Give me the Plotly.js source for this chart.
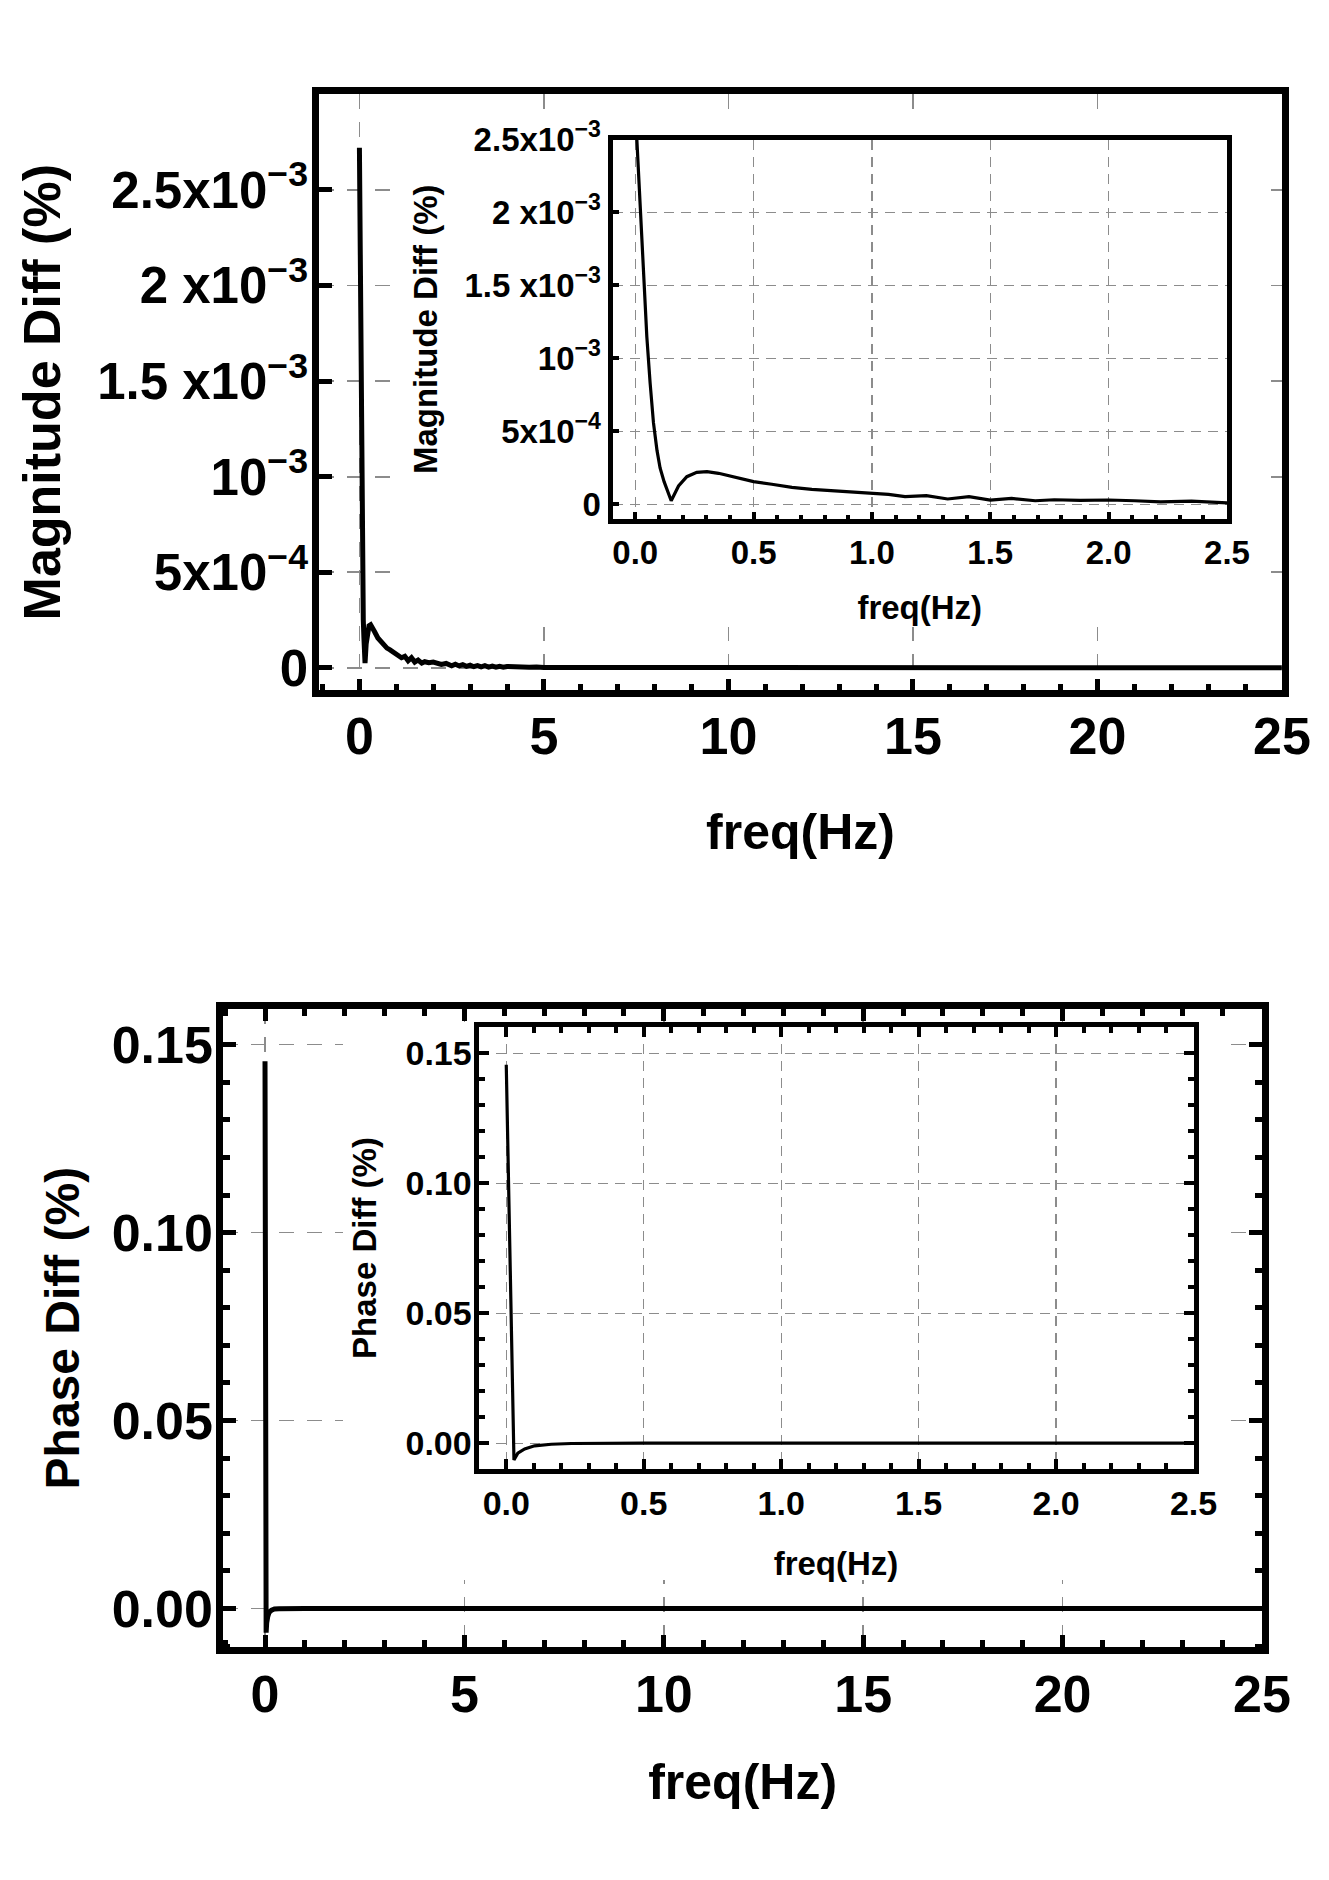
<!DOCTYPE html>
<html>
<head>
<meta charset="utf-8">
<script src="https://cdn.plot.ly/plotly-3.0.1.min.js"></script>
<style>html,body{margin:0;padding:0;background:#fff;}#chart{width:1329px;height:1880px;}</style>
</head>
<body>
<div id="chart"></div>
<script>
// ---- data ----
const magFreq = [0, 0.007, 0.021, 0.035, 0.049, 0.063, 0.077, 0.092, 0.105, 0.122, 0.152, 0.183, 0.218, 0.26, 0.303, 0.352, 0.408, 0.5, 0.577, 0.662, 0.746, 0.82, 0.9, 1.0, 1.07, 1.14, 1.23, 1.32, 1.41, 1.5, 1.59, 1.69, 1.77, 1.88, 2.0, 2.11, 2.22, 2.35, 2.5, 2.6, 2.7, 2.8, 2.9, 3.0, 3.1, 3.2, 3.3, 3.4, 3.5, 3.6, 3.7, 3.8, 3.9, 4.0, 4.2, 4.4, 4.6, 4.8, 5.0, 6, 7, 8, 9, 10, 12, 14, 16, 18, 20, 22, 25];
const magDiff = [2.72e-3, 2.50e-3, 2.02e-3, 1.57e-3, 1.15e-3, 0.83e-3, 0.56e-3, 0.37e-3, 0.25e-3, 0.156e-3, 0.025e-3, 0.126e-3, 0.19e-3, 0.22e-3, 0.225e-3, 0.213e-3, 0.19e-3, 0.156e-3, 0.138e-3, 0.117e-3, 0.103e-3, 0.095e-3, 0.085e-3, 0.076e-3, 0.069e-3, 0.053e-3, 0.060e-3, 0.037e-3, 0.053e-3, 0.030e-3, 0.041e-3, 0.025e-3, 0.032e-3, 0.027e-3, 0.030e-3, 0.025e-3, 0.018e-3, 0.023e-3, 0.011e-3, 0.019e-3, 0.010e-3, 0.017e-3, 0.008e-3, 0.014e-3, 0.006e-3, 0.012e-3, 0.005e-3, 0.011e-3, 0.004e-3, 0.009e-3, 0.003e-3, 0.008e-3, 0.003e-3, 0.007e-3, 0.004e-3, 0.006e-3, 0.003e-3, 0.004e-3, 0.002e-3, 0.002e-3, 0.0015e-3, 0.0015e-3, 0.001e-3, 0.001e-3, 0.001e-3, 0.0008e-3, 0.0008e-3, 0.0006e-3, 0.0006e-3, 0.0005e-3, 0.0005e-3];

const phaseFreq = [0, 0.028, 0.042, 0.067, 0.103, 0.164, 0.237, 0.35, 0.5, 1.0, 2.5, 5, 10, 15, 20, 25];
const phaseDiff = [0.1456, -0.0064, -0.0038, -0.0022, -0.0010, -0.0004, -0.0001, -0.00003, 0, 0, 0, 0, 0, 0, 0, 0];

const mainFreqTicks = [0, 5, 10, 15, 20, 25];
const mainFreqText = ['0', '5', '10', '15', '20', '25'];
const insetFreqTicks = [0, 0.5, 1.0, 1.5, 2.0, 2.5];
const insetFreqText = ['0.0', '0.5', '1.0', '1.5', '2.0', '2.5'];
const magTicks = [0, 5e-4, 1e-3, 1.5e-3, 2e-3, 2.5e-3];
const magTickText = ['0', '5x10<sup>\u22124</sup>', '10<sup>\u22123</sup>', '1.5 x10<sup>\u22123</sup>', '2 x10<sup>\u22123</sup>', '2.5x10<sup>\u22123</sup>'];
const phaseTicks = [0, 0.05, 0.10, 0.15];
const phaseTickText = ['0.00', '0.05', '0.10', '0.15'];

const xTitle = 'freq(Hz)';
const magTitle = 'Magnitude Diff (%)';
const phaseTitle = 'Phase Diff (%)';

// ---- styling ----
const FAM = 'Liberation Sans, Arial, Helvetica, sans-serif';
function f(size) { return {family: FAM, size: size, color: '#000', weight: 'bold'}; }
const W = 1329, H = 1880;
function dx(a, b) { return [a / W, b / W]; }
function dy(top, bottom) { return [1 - bottom / H, 1 - top / H]; }

function axis(o) {
  const big = o.big;
  const a = {
    domain: o.domain, anchor: o.anchor, range: o.range,
    tickmode: 'array', tickvals: o.tickvals, ticktext: o.ticktext,
    ticks: 'inside', ticklen: o.ticklen, tickwidth: o.tickwidth, tickcolor: '#000',
    showline: true, linewidth: big ? 7 : 5, linecolor: '#000', mirror: o.mirror,
    showgrid: true, gridcolor: '#8c8c8c', gridwidth: big ? 1.7 : 1.3,
    griddash: big ? '15px,13px' : '10px,7px',
    zeroline: false, fixedrange: true,
    tickfont: f(o.tickSize),
    title: {text: o.title, font: f(o.titleSize), standoff: o.standoff}
  };
  if (o.tls !== undefined) a.ticklabelstandoff = o.tls;
  if (o.minor) a.minor = {dtick: o.minor, tick0: 0, ticks: 'inside', ticklen: o.minorlen, tickwidth: o.tickwidth, tickcolor: '#000', showgrid: false};
  return a;
}
function hidden(domain, anchor) {
  return {domain: domain, anchor: anchor, visible: false, showgrid: false, zeroline: false, range: [0, 1], fixedrange: true};
}

const traces = [
  {x: magFreq, y: magDiff, xaxis: 'x', yaxis: 'y', mode: 'lines', line: {color: '#000', width: 5}, hoverinfo: 'skip'},
  {x: [], y: [], xaxis: 'x2', yaxis: 'y2', mode: 'lines', hoverinfo: 'skip'},
  {x: magFreq, y: magDiff, xaxis: 'x3', yaxis: 'y3', mode: 'lines', line: {color: '#000', width: 3.2}, hoverinfo: 'skip'},
  {x: phaseFreq, y: phaseDiff, xaxis: 'x4', yaxis: 'y4', mode: 'lines', line: {color: '#000', width: 5}, hoverinfo: 'skip'},
  {x: [], y: [], xaxis: 'x5', yaxis: 'y5', mode: 'lines', hoverinfo: 'skip'},
  {x: phaseFreq, y: phaseDiff, xaxis: 'x6', yaxis: 'y6', mode: 'lines', line: {color: '#000', width: 3.2}, hoverinfo: 'skip'}
];

const layout = {
  width: W, height: H,
  margin: {l: 0, r: 0, t: 0, b: 0, pad: 0},
  paper_bgcolor: '#fff', plot_bgcolor: '#fff',
  showlegend: false,
  // top main
  xaxis: axis({big: true, domain: dx(319.2, 1281.9), anchor: 'y', range: [-1.09, 25], tickvals: mainFreqTicks, ticktext: mainFreqText, ticklen: 11, tickwidth: 5, minor: 1, minorlen: 6, mirror: true, title: xTitle, tickSize: 52, titleSize: 50, standoff: 53, tls: -6}),
  yaxis: axis({big: true, domain: dy(94.3, 690.2), anchor: 'x', range: [-1.17e-4, 3.0e-3], tickvals: magTicks, ticktext: magTickText, ticklen: 13, tickwidth: 5, mirror: true, title: magTitle, tickSize: 51, titleSize: 52, standoff: 22, tls: -6}),
  // top cover
  xaxis2: hidden(dx(400, 1258), 'y2'),
  yaxis2: hidden(dy(113, 627), 'x2'),
  // top inset
  xaxis3: axis({big: false, domain: dx(612.5, 1227), anchor: 'y3', range: [-0.096, 2.5], tickvals: insetFreqTicks, ticktext: insetFreqText, ticklen: 7, tickwidth: 4, minor: 0.1, minorlen: 4, mirror: true, title: xTitle, tickSize: 33, titleSize: 33, standoff: 28}),
  yaxis3: axis({big: false, domain: dy(139.5, 519), anchor: 'x3', range: [-1.0e-4, 2.5e-3], tickvals: magTicks, ticktext: magTickText, ticklen: 6, tickwidth: 4, mirror: true, title: magTitle, tickSize: 33, titleSize: 33, standoff: 18}),
  // bottom main
  xaxis4: axis({big: true, domain: dx(223.3, 1262), anchor: 'y4', range: [-1.046, 25], tickvals: mainFreqTicks, ticktext: mainFreqText, ticklen: 12, tickwidth: 5, minor: 1, minorlen: 7, mirror: 'allticks', title: xTitle, tickSize: 52, titleSize: 50, standoff: 45, tls: -5}),
  yaxis4: axis({big: true, domain: dy(1008.9, 1647.3), anchor: 'x4', range: [-0.0103, 0.1595], tickvals: phaseTicks, ticktext: phaseTickText, ticklen: 13, tickwidth: 5, minor: 0.01, minorlen: 7, mirror: 'allticks', title: phaseTitle, tickSize: 52, titleSize: 48, standoff: 19, tls: -7}),
  // bottom cover
  xaxis5: hidden(dx(343, 1220), 'y5'),
  yaxis5: hidden(dy(1022, 1580), 'x5'),
  // bottom inset
  xaxis6: axis({big: false, domain: dx(478.5, 1193.5), anchor: 'y6', range: [-0.101, 2.5], tickvals: insetFreqTicks, ticktext: insetFreqText, ticklen: 10, tickwidth: 4, minor: 0.1, minorlen: 6, mirror: 'allticks', title: xTitle, tickSize: 34, titleSize: 33, standoff: 33}),
  yaxis6: axis({big: false, domain: dy(1027.3, 1468.7), anchor: 'x6', range: [-0.0098, 0.16], tickvals: phaseTicks, ticktext: phaseTickText, ticklen: 10, tickwidth: 4, minor: 0.01, minorlen: 6, mirror: 'allticks', title: phaseTitle, tickSize: 34, titleSize: 33, standoff: 20, tls: -5})
};

Plotly.newPlot('chart', traces, layout, {displayModeBar: false, staticPlot: true});
</script>
</body>
</html>
